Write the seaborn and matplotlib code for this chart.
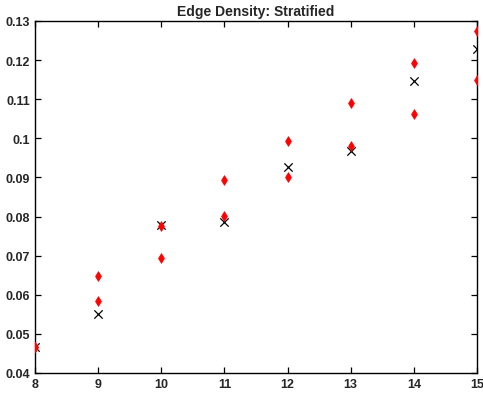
import pandas as pd
import matplotlib
matplotlib.use("Agg")
import matplotlib.pyplot as plt
import seaborn as sns

# valores
red_x = [8, 8, 9, 9, 10, 10, 11, 11, 12, 12, 13, 13, 14, 14, 15, 15]
red_y = [0.0466, 0.0466, 0.0648, 0.0584, 0.0776, 0.0694, 0.0893, 0.0801,
         0.0993, 0.0901, 0.1090, 0.0980, 0.1193, 0.1062, 0.1274, 0.1149]
black_x = [8, 9, 10, 11, 12, 13, 14, 15]
black_y = [0.0466, 0.0551, 0.0778, 0.0786, 0.0927, 0.0968, 0.1147, 0.1228]

x_ticks = [8, 9, 10, 11, 12, 13, 14, 15]
y_ticks = [0.04, 0.05, 0.06, 0.07, 0.08, 0.09, 0.1, 0.11, 0.12, 0.13]
y_labels = ["0.04", "0.05", "0.06", "0.07", "0.08", "0.09", "0.1", "0.11", "0.12", "0.13"]

sns.set_style("white")
plt.rcParams['font.family'] = ['Liberation Sans', 'DejaVu Sans']
plt.rcParams['font.weight'] = 'bold'

fig = plt.figure(figsize=(4.83, 4.02), dpi=100)
ax = fig.add_axes([0.0725, 0.0697, 0.915, 0.8756])

dados_red = pd.DataFrame({"x": red_x, "y": red_y})
dados_black = pd.DataFrame({"x": black_x, "y": black_y})

sns.scatterplot(data=dados_red, x="x", y="y", marker="d", color="red",
                s=24, edgecolor="red", linewidth=0.6, ax=ax, zorder=3)
sns.scatterplot(data=dados_black, x="x", y="y", marker="x", color="black",
                s=36, linewidth=0.9, ax=ax, zorder=2)

ax.set_xlim(8, 15)
ax.set_ylim(0.04, 0.13)
ax.set_xticks(x_ticks)
ax.set_yticks(y_ticks)
ax.set_yticklabels(y_labels)
ax.set_xlabel("")
ax.set_ylabel("")
ax.set_title("Edge Density: Stratified", fontsize=10, fontweight="bold", pad=4)
ax.tick_params(direction="in", length=4, width=0.9, labelsize=9,
               top=True, right=True, bottom=True, left=True, color="black")
for s in ax.spines.values():
    s.set_color("black")
    s.set_linewidth(1.0)

fig.savefig("out.png", dpi=100)
